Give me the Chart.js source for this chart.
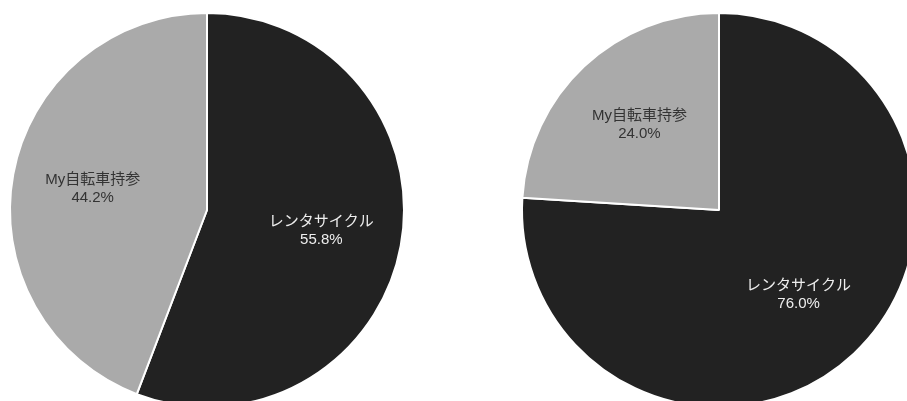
<!DOCTYPE html>
<html>
<head>
<meta charset="utf-8">
<script src="https://cdn.jsdelivr.net/npm/chart.js@4.4.0/dist/chart.umd.min.js"></script>
<style>
html,body{margin:0;padding:0;background:#fff;}
#wrap{position:relative;width:907px;height:401px;overflow:hidden;}
.c{position:absolute;top:0;width:414px;height:420px;}
#c1{left:0;}
#c2{left:512px;}
</style>
</head>
<body>
<div id="wrap">
<div class="c" id="c1"><canvas id="chart1"></canvas></div>
<div class="c" id="c2"><canvas id="chart2"></canvas></div>
</div>
<script>
const categories = ['レンタサイクル', 'My自転車持参'];
const valuesLeft = [55.8, 44.2];
const valuesRight = [76.0, 24.0];
const sliceColors = ['#222222', '#aaaaaa'];
const labelColors = ['#eeeeee', '#333333'];

const labelPlugin = {
  id: 'sliceLabels',
  afterDatasetsDraw(chart) {
    const ctx = chart.ctx;
    const meta = chart.getDatasetMeta(0);
    const data = chart.data.datasets[0].data;
    const total = data.reduce((a, b) => a + b, 0);
    ctx.save();
    ctx.font = '15px "Liberation Sans", "Noto Sans CJK JP", sans-serif';
    ctx.textAlign = 'center';
    ctx.textBaseline = 'middle';
    meta.data.forEach((arc, i) => {
      const p = arc.getProps(['x', 'y', 'startAngle', 'endAngle', 'outerRadius'], true);
      const mid = (p.startAngle + p.endAngle) / 2;
      const d = p.outerRadius * 0.59;
      const x = p.x + Math.cos(mid) * d;
      const y = p.y + Math.sin(mid) * d;
      ctx.fillStyle = labelColors[i];
      ctx.fillText(chart.data.labels[i], x, y - 9);
      ctx.fillText((data[i] / total * 100).toFixed(1) + '%', x, y + 9);
    });
    ctx.restore();
  }
};

function makePie(id, values) {
  return new Chart(document.getElementById(id), {
    type: 'pie',
    data: {
      labels: categories,
      datasets: [{
        data: values,
        backgroundColor: sliceColors,
        borderColor: '#ffffff',
        borderWidth: 2
      }]
    },
    options: {
      responsive: true,
      maintainAspectRatio: false,
      animation: false,
      radius: 197,
      layout: { padding: 0 },
      plugins: { legend: { display: false }, tooltip: { enabled: false } }
    },
    plugins: [labelPlugin]
  });
}
makePie('chart1', valuesLeft);
makePie('chart2', valuesRight);
</script>
</body>
</html>
